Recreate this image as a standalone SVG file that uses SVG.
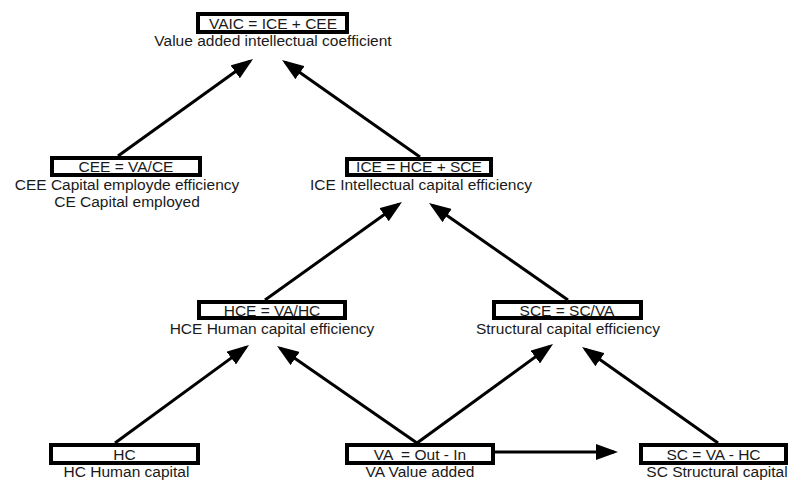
<svg xmlns="http://www.w3.org/2000/svg" width="789" height="480" viewBox="0 0 789 480">
<style>
  .box { fill: #ffffff; stroke: #000000; stroke-width: 4; }
  text { font-family: "Liberation Sans", Arial, sans-serif; font-size: 15.5px; fill: #1a1a1a; text-anchor: middle; white-space: pre; }
  .conn line { stroke: #000000; stroke-width: 3; marker-end: url(#arrow); }
</style>
<defs>
  <marker id="arrow" markerUnits="userSpaceOnUse" viewBox="0 0 22 16" markerWidth="22" markerHeight="16" refX="18" refY="8" orient="auto">
    <path d="M0,0 L22,8 L0,16 z" fill="#000000"/>
  </marker>
</defs>
<rect width="789" height="480" fill="#ffffff"/>

<g id="connectors" class="conn">
  <line x1="118" y1="156" x2="249.8" y2="61.3"/>
  <line x1="420" y1="157" x2="285.3" y2="62.3"/>
  <line x1="265" y1="300" x2="398.7" y2="204.3"/>
  <line x1="568" y1="300" x2="432.3" y2="205.3"/>
  <line x1="115" y1="443" x2="245.8" y2="347.4"/>
  <line x1="417" y1="443" x2="280.3" y2="348.3"/>
  <line x1="417" y1="443" x2="549.8" y2="346.4"/>
  <line x1="718" y1="443" x2="585.3" y2="349.3"/>
  <line x1="495" y1="452" x2="614" y2="452"/>
</g>

<g id="vaic">
  <rect class="box" x="198" y="14" width="149" height="18"/>
  <text x="273" y="29">VAIC = ICE + CEE</text>
  <text x="273" y="46">Value added intellectual coefficient</text>
</g>

<g id="cee">
  <rect class="box" x="52" y="158" width="148" height="17"/>
  <text x="126" y="172">CEE = VA/CE</text>
  <text x="127" y="190">CEE Capital employde efficiency</text>
  <text x="127" y="207">CE Capital employed</text>
</g>

<g id="ice">
  <rect class="box" x="347" y="159" width="144" height="16"/>
  <text x="419" y="172">ICE = HCE + SCE</text>
  <text x="421" y="190">ICE Intellectual capital efficiency</text>
</g>

<g id="hce">
  <rect class="box" x="199" y="302" width="146" height="16"/>
  <text x="272" y="315.5">HCE = VA/HC</text>
  <text x="272" y="334">HCE Human capital efficiency</text>
</g>

<g id="sce">
  <rect class="box" x="494" y="302" width="147" height="16"/>
  <text x="567" y="315.5">SCE = SC/VA</text>
  <text x="568" y="334">Structural capital efficiency</text>
</g>

<g id="hc">
  <rect class="box" x="51" y="445" width="147" height="18"/>
  <text x="124.5" y="459.5">HC</text>
  <text x="126.5" y="477">HC Human capital</text>
</g>

<g id="va">
  <rect class="box" x="347" y="445" width="146" height="18"/>
  <text x="420" y="459.5">VA  = Out - In</text>
  <text x="420" y="477">VA Value added</text>
</g>

<g id="sc">
  <rect class="box" x="641" y="445" width="145" height="18"/>
  <text x="713.5" y="459.5">SC = VA - HC</text>
  <text x="717" y="477">SC Structural capital</text>
</g>
</svg>
